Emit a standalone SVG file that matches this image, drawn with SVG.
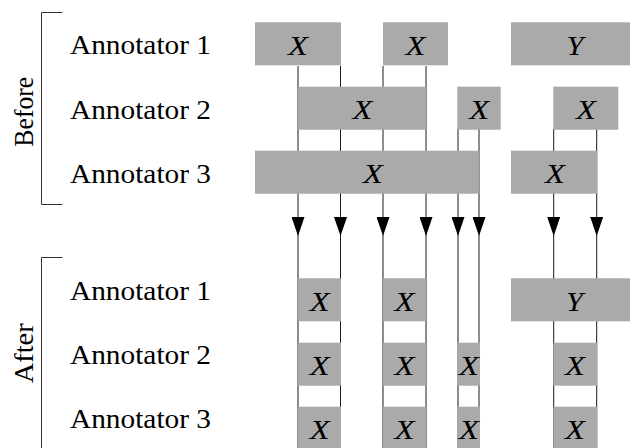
<svg xmlns="http://www.w3.org/2000/svg" width="630" height="448" viewBox="0 0 630 448">
  <style>
    .lbl { font-family: "Liberation Serif", "Times New Roman", serif; font-size: 26.5px; fill: #000; }
    .var { font-family: "Liberation Serif", "Times New Roman", serif; font-size: 27px; font-style: italic; fill: #000; text-anchor: middle; }
    .span rect { fill: #aaaaaa; }
    .brace { fill: none; stroke: #333; stroke-width: 1; }
    .link { fill: none; stroke: #1a1a1a; stroke-width: 1; marker-mid: url(#head); }
  </style>
  <defs>
    <marker id="head" markerUnits="userSpaceOnUse" markerWidth="19" markerHeight="13" viewBox="0 0 19 13" refX="19" refY="6.5" orient="auto">
      <path d="M0,0 L19,6.5 L0,13 z" fill="#000"/>
    </marker>
  </defs>

  <!-- section brackets -->
  <g id="before">
    <path class="brace" d="M62.5,12.5 H41.5 V204.5 H62.5"/>
    <text class="lbl" transform="translate(33,111.7) rotate(-90)" text-anchor="middle" textLength="70" lengthAdjust="spacingAndGlyphs">Before</text>
  </g>
  <g id="after">
    <path class="brace" d="M62.5,257.5 H41.5 V448"/>
    <text class="lbl" transform="translate(33,353.3) rotate(-90)" text-anchor="middle" textLength="60" lengthAdjust="spacingAndGlyphs">After</text>
  </g>

  <!-- row labels -->
  <g id="labels">
    <text class="lbl" x="70" y="54.3" textLength="141" lengthAdjust="spacingAndGlyphs">Annotator 1</text>
    <text class="lbl" x="70" y="119" textLength="141" lengthAdjust="spacingAndGlyphs">Annotator 2</text>
    <text class="lbl" x="70" y="182.7" textLength="141" lengthAdjust="spacingAndGlyphs">Annotator 3</text>
    <text class="lbl" x="70" y="300" textLength="141" lengthAdjust="spacingAndGlyphs">Annotator 1</text>
    <text class="lbl" x="70" y="364" textLength="141" lengthAdjust="spacingAndGlyphs">Annotator 2</text>
    <text class="lbl" x="70" y="428.3" textLength="141" lengthAdjust="spacingAndGlyphs">Annotator 3</text>
  </g>

  <!-- span boundaries projected downward -->
  <g id="connectors">
    <path class="link" d="M298,66 V236 V448"/>
    <path class="link" d="M340.5,66 V236 V448"/>
    <path class="link" d="M383,66 V236 V448"/>
    <path class="link" d="M426,66 V236 V448"/>
    <path class="link" d="M458,129 V236 V448"/>
    <path class="link" d="M479,129 V236 V448"/>
    <path class="link" d="M553.7,129 V236 V448"/>
    <path class="link" d="M596.7,129 V236 V448"/>
  </g>

  <!-- before: annotator 1 -->
  <g id="b1a" class="span"><rect x="255" y="22.3" width="86" height="43"/><text class="var" x="298" y="55" textLength="20" lengthAdjust="spacingAndGlyphs">X</text></g>
  <g id="b1b" class="span"><rect x="383" y="22.3" width="65" height="43"/><text class="var" x="415.5" y="55" textLength="20" lengthAdjust="spacingAndGlyphs">X</text></g>
  <g id="b1c" class="span"><rect x="511" y="22.3" width="129" height="43"/><text class="var" x="575" y="55" textLength="17" lengthAdjust="spacingAndGlyphs">Y</text></g>
  <!-- before: annotator 2 -->
  <g id="b2a" class="span"><rect x="298" y="86.7" width="128" height="43"/><text class="var" x="362.5" y="119.3" textLength="20" lengthAdjust="spacingAndGlyphs">X</text></g>
  <g id="b2b" class="span"><rect x="457.3" y="86.7" width="43.4" height="43"/><text class="var" x="479.3" y="119.3" textLength="20" lengthAdjust="spacingAndGlyphs">X</text></g>
  <g id="b2c" class="span"><rect x="553.3" y="86.7" width="65" height="43"/><text class="var" x="586" y="119.3" textLength="20" lengthAdjust="spacingAndGlyphs">X</text></g>
  <!-- before: annotator 3 -->
  <g id="b3a" class="span"><rect x="255" y="150.7" width="224.3" height="43"/><text class="var" x="373" y="183.3" textLength="20" lengthAdjust="spacingAndGlyphs">X</text></g>
  <g id="b3b" class="span"><rect x="511" y="150.7" width="86.3" height="43"/><text class="var" x="555" y="183.3" textLength="20" lengthAdjust="spacingAndGlyphs">X</text></g>

  <!-- after: annotator 1 -->
  <g id="a1a" class="span"><rect x="298" y="278.3" width="43" height="43"/><text class="var" x="319.7" y="310.7" textLength="20" lengthAdjust="spacingAndGlyphs">X</text></g>
  <g id="a1b" class="span"><rect x="383" y="278.3" width="43" height="43"/><text class="var" x="404.5" y="310.7" textLength="20" lengthAdjust="spacingAndGlyphs">X</text></g>
  <g id="a1c" class="span"><rect x="511" y="278.3" width="129" height="43"/><text class="var" x="574.5" y="310.7" textLength="17" lengthAdjust="spacingAndGlyphs">Y</text></g>
  <!-- after: annotator 2 -->
  <g id="a2a" class="span"><rect x="298" y="342.7" width="43" height="43"/><text class="var" x="319.7" y="375" textLength="20" lengthAdjust="spacingAndGlyphs">X</text></g>
  <g id="a2b" class="span"><rect x="383" y="342.7" width="43" height="43"/><text class="var" x="404.5" y="375" textLength="20" lengthAdjust="spacingAndGlyphs">X</text></g>
  <g id="a2c" class="span"><rect x="457.3" y="342.7" width="22.7" height="43"/><text class="var" x="469" y="375" textLength="20" lengthAdjust="spacingAndGlyphs">X</text></g>
  <g id="a2d" class="span"><rect x="553.3" y="342.7" width="44" height="43"/><text class="var" x="575" y="375" textLength="20" lengthAdjust="spacingAndGlyphs">X</text></g>
  <!-- after: annotator 3 -->
  <g id="a3a" class="span"><rect x="298" y="406.7" width="43" height="43"/><text class="var" x="319.7" y="439" textLength="20" lengthAdjust="spacingAndGlyphs">X</text></g>
  <g id="a3b" class="span"><rect x="383" y="406.7" width="43" height="43"/><text class="var" x="404.5" y="439" textLength="20" lengthAdjust="spacingAndGlyphs">X</text></g>
  <g id="a3c" class="span"><rect x="457.3" y="406.7" width="22.7" height="43"/><text class="var" x="469" y="439" textLength="20" lengthAdjust="spacingAndGlyphs">X</text></g>
  <g id="a3d" class="span"><rect x="553.3" y="406.7" width="44" height="43"/><text class="var" x="575" y="439" textLength="20" lengthAdjust="spacingAndGlyphs">X</text></g>
</svg>
